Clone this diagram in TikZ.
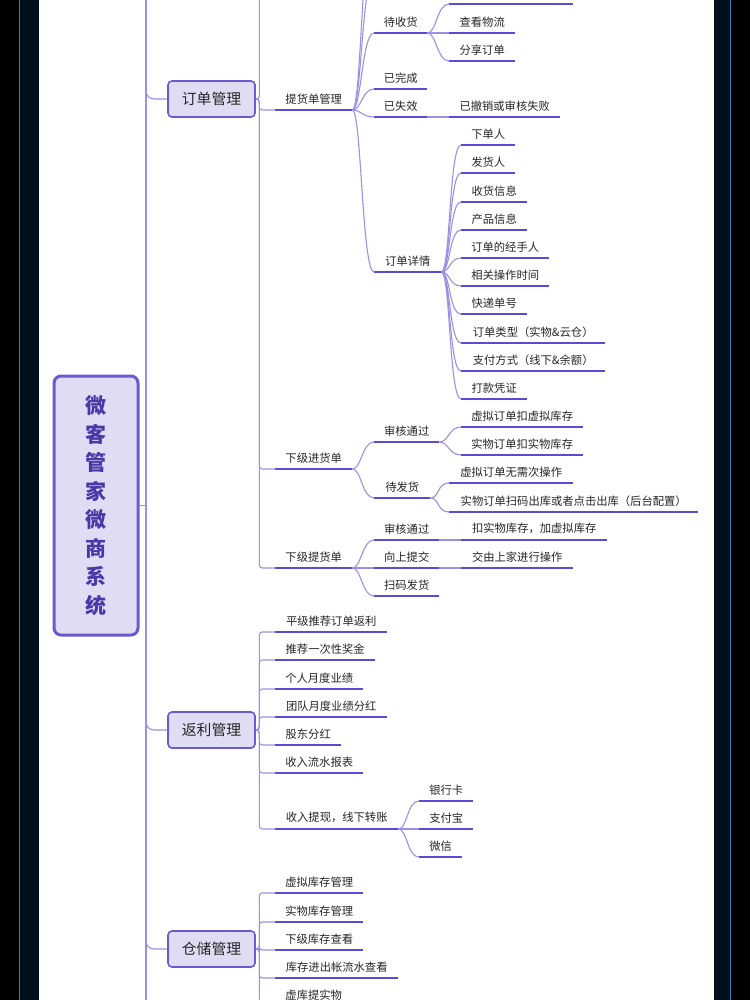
\documentclass[tikz,border=0pt]{standalone}
\usepackage{fontspec}
\newfontfamily\cjk{Noto Sans CJK SC}
\definecolor{ulc}{HTML}{5B4AD6}
\definecolor{lnc}{HTML}{9D90E4}
\definecolor{boxc}{HTML}{E0DCF4}
\definecolor{bdc}{HTML}{6A5AD2}
\definecolor{txt}{HTML}{262626}
\definecolor{roottxt}{HTML}{4A38A6}
\definecolor{navy}{HTML}{02101E}
\definecolor{frameblue}{HTML}{3D78B8}
\tikzset{
  ul/.style={draw=ulc, line width=2.6pt},
  conn/.style={draw=lnc, line width=1.1pt},
  lbl/.style={font=\cjk\fontsize{11.3}{13}\selectfont, text=txt, inner sep=0pt, minimum height=22pt, anchor=south west},
  lone/.style={draw=bdc, fill=boxc, line width=1.6pt, rounded corners=4pt, font=\cjk\fontsize{14.8}{17}\selectfont, text=txt, minimum width=87pt, minimum height=36pt, inner sep=0pt},
  rootbox/.style={draw=bdc, fill=boxc, line width=3pt, rounded corners=7pt, minimum width=84pt, minimum height=259pt, inner sep=0pt, align=center, text=roottxt, font=\cjk\bfseries\fontsize{21}{28.5}\selectfont},
}
\newcommand\leaf[5]{%
  \node[lbl, minimum width={#3pt-#2pt}] (#1) at (#2,#4) {#5};
  \draw[ul] (#1.south west) -- (#1.south east);}
\newcommand\fan[2]{\draw[conn] (#1.south east) .. controls +(9,0) and +(-12,0) .. (#2.south west);}
\newcommand\fanc[2]{\draw[conn] (#1.south east) .. controls +(9,0) and +(-12,0) .. (#2);}
\newcommand\bus[2]{\draw[conn, rounded corners=3pt] (#1.east) -- ++(3.5,0) |- (#2.south west);}
\begin{document}
\begin{tikzpicture}[x=1pt, y=-1pt]
\useasboundingbox (0,0) rectangle (750,1000);
\clip (0,0) rectangle (750,1000);
\fill[white] (0,0) rectangle (750,1000);
% frame
\fill[black] (0,0) rectangle (20,1000);
\fill[navy] (20,0) rectangle (39,1000);
\draw[frameblue, line width=1.2pt] (19.8,0) -- (19.8,1000);
\fill[navy] (714,0) rectangle (731,1000);
\fill[black] (731,0) rectangle (750,1000);
\draw[frameblue, line width=1.2pt] (730.5,0) -- (730.5,1000);

% root and trunk
\node[rootbox] (root) at (96,505.5) {微\\客\\管\\家\\微\\商\\系\\统};
\coordinate (ttop) at (146,-10);
\coordinate (tbot) at (146,1010);
\draw[conn] (ttop) -- (tbot);
\draw[conn] (root.east) -- (root.east -| ttop);

% level 1
\node[lone] (ddgl) at (211.5,99) {订单管理};
\node[lone] (flgl) at (211.5,730) {返利管理};
\node[lone] (ccgl) at (211.5,949) {仓储管理};
\foreach \n in {ddgl,flgl,ccgl}{
  \draw[conn, rounded corners=8pt] ([yshift=11pt]\n.west -| ttop) |- (\n.west);
}

% ---- 订单管理
\coordinate (a0) at (275,-40);
\draw[conn, rounded corners=3pt] (ddgl.east) -- ++(3.5,0) |- (a0);
\leaf{thd}{275}{352}{110}{提货单管理}
\leaf{xjj}{275}{352}{469}{下级进货单}
\leaf{xjt}{275}{352}{568}{下级提货单}
\bus{ddgl}{thd}
\bus{ddgl}{xjj}
\bus{ddgl}{xjt}

% 提货单管理 children
\coordinate (b0) at (374,-80);
\coordinate (b1) at (374,-25);
\fanc{thd}{b0}
\fanc{thd}{b1}
\leaf{dsh}{374}{427}{33}{待收货}
\leaf{ywc}{374}{427}{89}{已完成}
\leaf{ysx}{374}{427}{117}{已失效}
\leaf{ddxq}{374}{441}{272}{订单详情}
\fan{thd}{dsh}
\fan{thd}{ywc}
\fan{thd}{ysx}
\fan{thd}{ddxq}

% 待收货 children
\leaf{c0}{449}{573}{4}{}
\leaf{ckwl}{449}{515}{33}{查看物流}
\leaf{fxdd}{449}{515}{61}{分享订单}
\fan{dsh}{c0}
\fan{dsh}{ckwl}
\fan{dsh}{fxdd}

% 已失效 child
\leaf{ycx}{449}{560}{117}{已撤销或审核失败}
\fan{ysx}{ycx}

% 订单详情 children
\leaf{d1}{461}{515}{145}{下单人}
\leaf{d2}{461}{515}{173}{发货人}
\leaf{d3}{461}{527}{202}{收货信息}
\leaf{d4}{461}{527}{230}{产品信息}
\leaf{d5}{461}{549}{258}{订单的经手人}
\leaf{d6}{461}{549}{286}{相关操作时间}
\leaf{d7}{461}{527}{314}{快递单号}
\leaf{d8}{461}{605}{343}{订单类型（实物\&云仓）}
\leaf{d9}{461}{605}{371}{支付方式（线下\&余额）}
\leaf{d10}{461}{527}{399}{打款凭证}
\foreach \c in {d1,d2,d3,d4,d5,d6,d7,d8,d9,d10}{\fan{ddxq}{\c}}

% 下级进货单
\leaf{sh1}{374}{439}{442}{审核通过}
\leaf{dfh}{374}{430}{498}{待发货}
\fan{xjj}{sh1}
\fan{xjj}{dfh}
\leaf{e1}{461}{583}{427}{虚拟订单扣虚拟库存}
\leaf{e2}{461}{583}{455}{实物订单扣实物库存}
\fan{sh1}{e1}
\fan{sh1}{e2}
\leaf{f1}{449}{573}{483}{虚拟订单无需次操作}
\leaf{f2}{449}{698}{512}{实物订单扫码出库或者点击出库（后台配置）}
\fan{dfh}{f1}
\fan{dfh}{f2}

% 下级提货单
\leaf{sh2}{374}{439}{540}{审核通过}
\leaf{xstj}{374}{439}{568}{向上提交}
\leaf{smfh}{374}{439}{596}{扫码发货}
\fan{xjt}{sh2}
\fan{xjt}{xstj}
\fan{xjt}{smfh}
\leaf{g1}{461}{607}{540}{扣实物库存，加虚拟库存}
\leaf{g2}{461}{573}{568}{交由上家进行操作}
\fan{sh2}{g1}
\fan{xstj}{g2}

% ---- 返利管理
\leaf{r1}{275}{387}{632}{平级推荐订单返利}
\leaf{r2}{275}{375}{660}{推荐一次性奖金}
\leaf{r3}{275}{363}{689}{个人月度业绩}
\leaf{r4}{275}{387}{717}{团队月度业绩分红}
\leaf{r5}{275}{341}{745}{股东分红}
\leaf{r6}{275}{363}{773}{收入流水报表}
\leaf{r7}{275}{398}{829}{收入提现，线下转账}
\foreach \c in {r1,r2,r3,r4,r5,r6,r7}{\bus{flgl}{\c}}
\leaf{h1}{419}{473}{801}{银行卡}
\leaf{h2}{419}{473}{829}{支付宝}
\leaf{h3}{419}{462}{857}{微信}
\fan{r7}{h1}
\fan{r7}{h2}
\fan{r7}{h3}

% ---- 仓储管理
\leaf{s1}{275}{363}{893}{虚拟库存管理}
\leaf{s2}{275}{363}{922}{实物库存管理}
\leaf{s3}{275}{363}{950}{下级库存查看}
\leaf{s4}{275}{398}{978}{库存进出帐流水查看}
\leaf{s5}{275}{352}{1006}{虚库提实物}
\foreach \c in {s1,s2,s3,s4,s5}{\bus{ccgl}{\c}}
\end{tikzpicture}
\end{document}
